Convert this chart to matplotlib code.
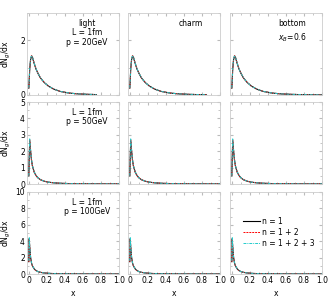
import numpy as np
from matplotlib import pyplot as plt
from matplotlib.ticker import MultipleLocator

# x grid of the gluon spectra
x = [0.0, 0.005, 0.01, 0.02, 0.03, 0.04, 0.06, 0.08, 0.1, 0.13, 0.17, 0.22,
     0.28, 0.35, 0.45, 0.55, 0.65, 0.75, 0.85, 0.95, 1.0]

# row 1: L = 1fm, p = 20GeV
r1_n1 = [0.25, 0.55, 0.95, 1.30, 1.42, 1.38, 1.15, 0.95, 0.80, 0.62, 0.46, 0.32,
         0.21, 0.13, 0.07, 0.04, 0.025, 0.015, 0.01, 0.006, 0.005]
r1_n12 = [0.25, 0.57, 0.97, 1.32, 1.44, 1.39, 1.16, 0.96, 0.81, 0.62, 0.46, 0.32,
          0.21, 0.13, 0.07, 0.04, 0.025, 0.015, 0.01, 0.006, 0.005]
r1_n123 = [0.26, 0.58, 0.98, 1.33, 1.45, 1.40, 1.16, 0.96, 0.81, 0.63, 0.46, 0.32,
           0.21, 0.13, 0.07, 0.04, 0.025, 0.015, 0.01, 0.006, 0.005]
# row 2: L = 1fm, p = 50GeV
r2_n1 = [0.5, 1.6, 2.65, 2.0, 1.45, 1.1, 0.72, 0.52, 0.38, 0.26, 0.17, 0.11,
         0.07, 0.045, 0.025, 0.015, 0.01, 0.007, 0.005, 0.004, 0.003]
r2_n12 = [0.5, 1.65, 2.70, 2.05, 1.48, 1.12, 0.73, 0.52, 0.38, 0.26, 0.17, 0.11,
          0.07, 0.045, 0.025, 0.015, 0.01, 0.007, 0.005, 0.004, 0.003]
r2_n123 = [0.5, 1.7, 2.75, 2.08, 1.50, 1.13, 0.74, 0.53, 0.39, 0.26, 0.17, 0.11,
           0.07, 0.045, 0.025, 0.015, 0.01, 0.007, 0.005, 0.004, 0.003]
# row 3: L = 1fm, p = 100GeV
r3_n1 = [1.5, 4.3, 3.3, 2.0, 1.35, 1.0, 0.62, 0.42, 0.30, 0.20, 0.13, 0.08,
         0.05, 0.03, 0.018, 0.011, 0.008, 0.006, 0.004, 0.003, 0.003]
r3_n12 = [1.5, 4.35, 3.35, 2.02, 1.37, 1.0, 0.63, 0.42, 0.30, 0.20, 0.13, 0.08,
          0.05, 0.03, 0.018, 0.011, 0.008, 0.006, 0.004, 0.003, 0.003]
r3_n123 = [1.6, 4.45, 3.4, 2.05, 1.38, 1.02, 0.63, 0.43, 0.30, 0.20, 0.13, 0.08,
           0.05, 0.03, 0.018, 0.011, 0.008, 0.006, 0.004, 0.003, 0.003]

rows = [(r1_n1, r1_n12, r1_n123), (r2_n1, r2_n12, r2_n123), (r3_n1, r3_n12, r3_n123)]
ylims = [3, 5, 10]
ysteps = [2, 1, 2]
row_text = ['light\nL = 1fm\np = 20GeV', 'L = 1fm\np = 50GeV', 'L = 1fm\np = 100GeV']
col_text = ['', 'charm', 'bottom\n$x_B$=0.6']
x_end = [[0.8, 0.87, 1.0], [1.0, 1.0, 1.0], [1.0, 1.0, 1.0]]
labels = ['n = 1', 'n = 1 + 2', 'n = 1 + 2 + 3']

plt.rcParams['font.size'] = 5.5
fig = plt.figure(figsize=(3.34, 2.99), dpi=100)

lefts = [27, 128, 230]
tops = [13, 102, 192]
W, H = 92, 82

for i in range(3):
    for j in range(3):
        ax = fig.add_axes([lefts[j] / 334, 1 - (tops[i] + H) / 299, W / 334, H / 299])
        n1, n12, n123 = rows[i]
        xa = np.array(x)
        m = xa <= x_end[i][j]
        ax.plot(xa[m], np.array(n1)[m], color='black', lw=0.8, label=labels[0])
        ax.plot(xa[m], np.array(n12)[m], color='red', lw=0.7, ls=(0, (2, 1)), label=labels[1])
        ax.plot(xa[m], np.array(n123)[m], color='#22cccc', lw=0.7, ls=(0, (3, 1, 1, 1)), label=labels[2])
        ax.set_xlim(-0.02, 1.0)
        ax.set_ylim(0, ylims[i])
        ax.xaxis.set_major_locator(MultipleLocator(0.2))
        ax.xaxis.set_minor_locator(MultipleLocator(0.1))
        ax.yaxis.set_major_locator(MultipleLocator(ysteps[i]))
        ax.yaxis.set_minor_locator(MultipleLocator(ysteps[i] / 2))
        ax.tick_params(which='both', direction='in', top=True, right=True,
                       color='#bbbbbb', pad=1.5)
        ax.tick_params(which='major', length=2.5)
        ax.tick_params(which='minor', length=1.5)
        for s in ax.spines.values():
            s.set_color('#cccccc')
            s.set_linewidth(0.6)
        if i < 2:
            ax.set_xticklabels([])
        else:
            ax.set_xticks([0, 0.2, 0.4, 0.6, 0.8, 1.0])
            ax.set_xticklabels(['0', '0.2', '0.4', '0.6', '0.8', '1.0'])
            ax.set_xlabel('x', labelpad=3)
        if j > 0:
            ax.set_yticklabels([])
        else:
            ax.set_ylabel('dN$_g$/dx')
            ax.yaxis.set_label_coords(-0.15, 0.5)
        if j == 0:
            ax.text(0.65, 0.93, row_text[i], transform=ax.transAxes,
                    ha='center', va='top', linespacing=1.1)
        if i == 0 and j > 0:
            ax.text(0.68, 0.93, col_text[j], transform=ax.transAxes,
                    ha='center', va='top', linespacing=1.4)
        if i == 2 and j == 2:
            ax.legend(loc='center left', bbox_to_anchor=(0.1, 0.51), frameon=False,
                      handlelength=2.2, handletextpad=0.3, labelspacing=0.25,
                      borderpad=0)

fig.savefig('out.png', dpi=100)
